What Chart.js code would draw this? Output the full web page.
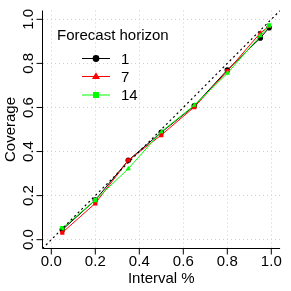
<!DOCTYPE html>
<html><head><meta charset="utf-8">
<script src="https://cdn.jsdelivr.net/npm/chart.js@4"></script>
<style>html,body{margin:0;padding:0;background:#fff}canvas{display:block}</style>
</head><body>
<canvas id="c" width="291" height="291"></canvas>
<script>
const intervals = [0.05, 0.2, 0.35, 0.5, 0.65, 0.8, 0.95, 0.99];
const horizon1 = [0.045, 0.18, 0.36, 0.487, 0.607, 0.77, 0.915, 0.962];
const horizon7 = [0.032, 0.165, 0.36, 0.475, 0.602, 0.765, 0.938, 0.968];
const horizon14 = [0.052, 0.18, 0.322, 0.49, 0.61, 0.755, 0.925, 0.972];
const seriesNames = ['1', '7', '14'];
const tickValues = [0, 0.2, 0.4, 0.6, 0.8, 1.0];
const tickLabels = ['0.0', '0.2', '0.4', '0.6', '0.8', '1.0'];
const axisRange = [-0.04, 1.04];

const FONT = '15px "Liberation Sans", Arial, sans-serif';
const pts = vals => vals.map((v, i) => ({x: intervals[i], y: v}));

const rPlot = {
  id: 'rPlot',
  afterDraw(chart) {
    const ctx = chart.ctx, xs = chart.scales.x, ys = chart.scales.y, a = chart.chartArea;
    ctx.save();
    ctx.strokeStyle = '#000'; ctx.lineWidth = 1; ctx.setLineDash([]);
    ctx.beginPath();
    ctx.moveTo(a.left, a.top); ctx.lineTo(a.left, a.bottom); ctx.lineTo(a.right, a.bottom);
    tickValues.forEach(v => {
      const px = xs.getPixelForValue(v);
      ctx.moveTo(px, a.bottom); ctx.lineTo(px, a.bottom + 6);
      const py = ys.getPixelForValue(v);
      ctx.moveTo(a.left, py); ctx.lineTo(a.left - 6, py);
    });
    ctx.stroke();
    ctx.fillStyle = '#000'; ctx.font = FONT;
    ctx.textAlign = 'center'; ctx.textBaseline = 'alphabetic';
    tickValues.forEach((v, i) => ctx.fillText(tickLabels[i], xs.getPixelForValue(v), 266));
    ctx.fillText('Interval %', (a.left + a.right) / 2, 283);
    tickValues.forEach((v, i) => {
      ctx.save(); ctx.translate(33, ys.getPixelForValue(v)); ctx.rotate(-Math.PI / 2);
      ctx.fillText(tickLabels[i], 0, 0); ctx.restore();
    });
    ctx.save(); ctx.translate(15, (a.top + a.bottom) / 2); ctx.rotate(-Math.PI / 2);
    ctx.fillText('Coverage', 0, 0); ctx.restore();
    // legend
    ctx.textAlign = 'left';
    ctx.fillText('Forecast horizon', 57, 40);
    const ds = chart.data.datasets;
    const rows = [58.5, 76.5, 95];
    [0, 1, 2].forEach(k => {
      const d = ds[k + 1], y = rows[k];
      ctx.strokeStyle = d.borderColor; ctx.lineWidth = 1;
      ctx.beginPath(); ctx.moveTo(82, y); ctx.lineTo(110, y); ctx.stroke();
      ctx.fillStyle = d.borderColor;
      ctx.beginPath();
      if (k === 0) { ctx.arc(96, y, 3.4, 0, Math.PI * 2); }
      else if (k === 1) { ctx.moveTo(96, y - 4.3); ctx.lineTo(100, y + 2.6); ctx.lineTo(92, y + 2.6); ctx.closePath(); }
      else { ctx.rect(93, y - 3, 6, 6); }
      ctx.fill();
      ctx.fillStyle = '#000';
      ctx.fillText(seriesNames[k], 121, y + 5.3);
    });
    ctx.restore();
  }
};

const scaleOpts = {
  type: 'linear', min: axisRange[0], max: axisRange[1],
  afterBuildTicks: s => { s.ticks = tickValues.map(v => ({value: v})); },
  afterFit: s => { if (s.isHorizontal()) s.height = 0; else s.width = 0; },
  ticks: {display: false},
  grid: {color: '#cfcfcf', lineWidth: 1, drawTicks: false},
  border: {display: false, dash: [1, 3]}
};

new Chart(document.getElementById('c'), {
  type: 'line',
  data: {
    datasets: [
      {label: 'ref', data: axisRange.map(v => ({x: v, y: v})), borderColor: '#000', borderWidth: 1.2,
       borderDash: [2, 3], pointRadius: 0, order: 0},
      {label: seriesNames[0], data: pts(horizon1), borderColor: '#000000', backgroundColor: '#000000',
       borderWidth: 1, pointStyle: 'circle', pointRadius: 2.8, pointBorderWidth: 0, order: 3},
      {label: seriesNames[1], data: pts(horizon7), borderColor: '#ff0000', backgroundColor: '#ff0000',
       borderWidth: 1, pointStyle: ['rect','rect','rect','rect','rect','rect','triangle','triangle'],
       pointRadius: 3, pointBorderWidth: 0, order: 2},
      {label: seriesNames[2], data: pts(horizon14), borderColor: '#00ff00', backgroundColor: '#00ff00',
       borderWidth: 1, pointStyle: ['rect','rect','triangle','triangle','triangle','triangle','triangle','rect'],
       pointRadius: 3, pointBorderWidth: 0, order: 1}
    ]
  },
  options: {
    responsive: false, animation: false, devicePixelRatio: 1,
    layout: {padding: {left: 42.5, right: 10.9, top: 10.5, bottom: 42.5}},
    plugins: {legend: {display: false}, tooltip: {enabled: false}},
    elements: {line: {tension: 0}},
    scales: {x: scaleOpts, y: scaleOpts}
  },
  plugins: [rPlot]
});
</script>
</body></html>
